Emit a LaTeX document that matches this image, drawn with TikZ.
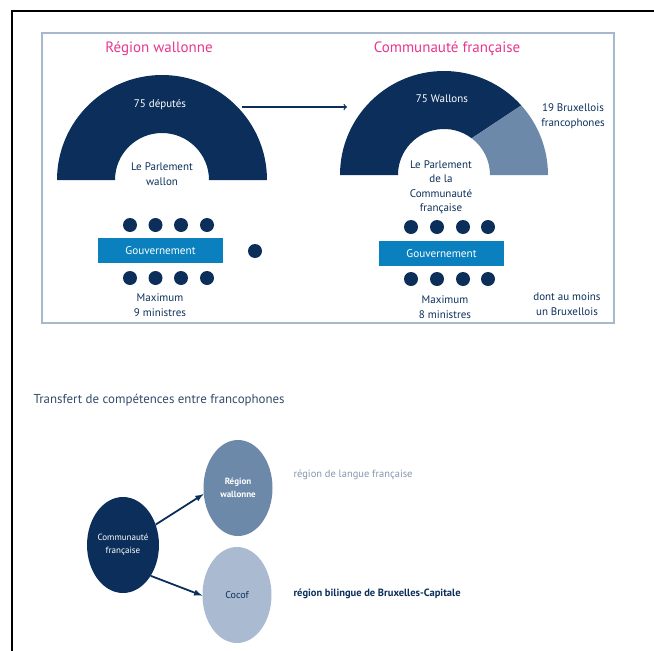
\documentclass[tikz,border=0pt]{standalone}
\usepackage{fontspec}
\setmainfont{PT Sans}
\usetikzlibrary{shapes.geometric,arrows,positioning,calc}

\definecolor{navy}{HTML}{0B2F5A}
\definecolor{gouvblue}{HTML}{0A80BF}
\definecolor{pinktitle}{HTML}{E8378E}
\definecolor{grayblue}{HTML}{6C89AA}
\definecolor{lightblue}{HTML}{AABAD1}
\definecolor{labelgray}{HTML}{8496B0}
\definecolor{framegray}{HTML}{A8B8CC}
\definecolor{headgray}{HTML}{324B6A}

\tikzset{
  txt/.style={text=navy, align=center, font=\fontsize{11}{14.5}\selectfont},
  title/.style={text=pinktitle, font=\fontsize{15}{17}\selectfont},
  gouv/.style={fill=gouvblue, text=white, minimum width=125pt, minimum height=25pt,
    inner sep=0pt, font=\fontsize{11.2}{13}\selectfont},
  bubble/.style={ellipse, minimum width=69pt, minimum height=96pt, inner sep=0pt,
    align=center, font=\fontsize{9}{13}\selectfont},
  transfer/.style={-latex, navy, line width=1.8pt}
}

\begin{document}
\begin{tikzpicture}[x=1pt,y=-1pt]
        \useasboundingbox (0,0) rectangle (654,651);

        % Page frame
        \draw[line width=1.5pt] (12,651) -- (12,11) -- (654,11);

        % Box round both parliaments
        \draw[line width=1.2pt, framegray] (42,33) rectangle (614,323);

        % Region wallonne
        \node[title] (rwtitle) at (159,49) {Région wallonne};
        \fill[navy] (162,180) ++(180:105) arc[start angle=180, end angle=360, radius=105]
            -- ++(-58,0) arc[start angle=360, end angle=180, radius=47] -- cycle;
        \node[txt, text=white] (rwseats) at (160,105) {75 députés};
        \node[txt] (rwparl) at (162,174) {Le Parlement\\wallon};

        % Ministers (left)
        \foreach \x in {130,155.5,181,207} {
            \fill[navy] (\x,225) circle (7);
            \fill[navy] (\x,278) circle (7);
        }
        \fill[navy] (255,251) circle (7);
        \node[gouv] (rwgouv) at (160.5,250.5) {Gouvernement};
        \node[txt] (rwmax) at (160,305) {Maximum\\9 ministres};

        % Same deputies sit in both
        \coordinate (rwout) at (242,107);
        \coordinate (cfin) at (347,107);
        \draw[->, navy, line width=1.3pt] (rwout) -- (cfin);

        % Communaute francaise
        \node[title] (cftitle) at (447,49) {Communauté française};
        \coordinate (cfc) at (444,175);
        \fill[navy] (cfc) ++(180:104) arc[start angle=180, end angle=318, radius=104]
            -- ([shift={(307:46)}]cfc) arc[start angle=307, end angle=180, radius=46] -- cycle;
        \fill[grayblue] (cfc) ++(318:104) arc[start angle=318, end angle=360, radius=104]
            -- ++(-58,0) arc[start angle=360, end angle=307, radius=46] -- cycle;
        \node[txt, text=white] (cfseats) at (442,99) {75 Wallons};
        \node[txt] (cfbxl) at (573,116) {19 Bruxellois\\francophones};
        \node[txt] (cfparl) at (441,187) {Le Parlement\\de la\\Communauté\\française};

        % Ministers (right)
        \foreach \x in {411,437,463,488} {
            \fill[navy] (\x,227) circle (7);
            \fill[navy] (\x,279) circle (7);
        }
        \node[gouv] (cfgouv) at (441.5,253.5) {Gouvernement};
        \node[txt] (cfmax) at (445,307) {Maximum\\8 ministres};
        \node[txt] (cfmin) at (567,304) {dont au moins\\un Bruxellois};

        % Transfer of powers
        \node[anchor=west, text=headgray, font=\fontsize{12.9}{15}\selectfont] (transfert) at (30,400)
            {Transfert de compétences entre francophones};
        \node[bubble, fill=navy, text=white] (cf) at (123,545) {Communauté\\française};
        \node[bubble, fill=grayblue, text=white, font=\bfseries\fontsize{9}{13}\selectfont] (rw) at (238,488) {Région\\wallonne};
        \node[bubble, fill=lightblue, text=navy, font=\fontsize{10}{13}\selectfont] (cocof) at (237,595) {Cocof};
        \draw[transfer] (cf.32) -- (rw.190);
        \draw[transfer] (cf.312) -- (cocof.181);
        \node[anchor=west, text=labelgray, font=\fontsize{10.5}{12}\selectfont] (langue) at (290,475)
            {région de langue française};
        \node[anchor=west, text=navy, font=\bfseries\fontsize{10.5}{12}\selectfont] (bilingue) at (290,594)
            {région bilingue de Bruxelles-Capitale};
\end{tikzpicture}
\end{document}
